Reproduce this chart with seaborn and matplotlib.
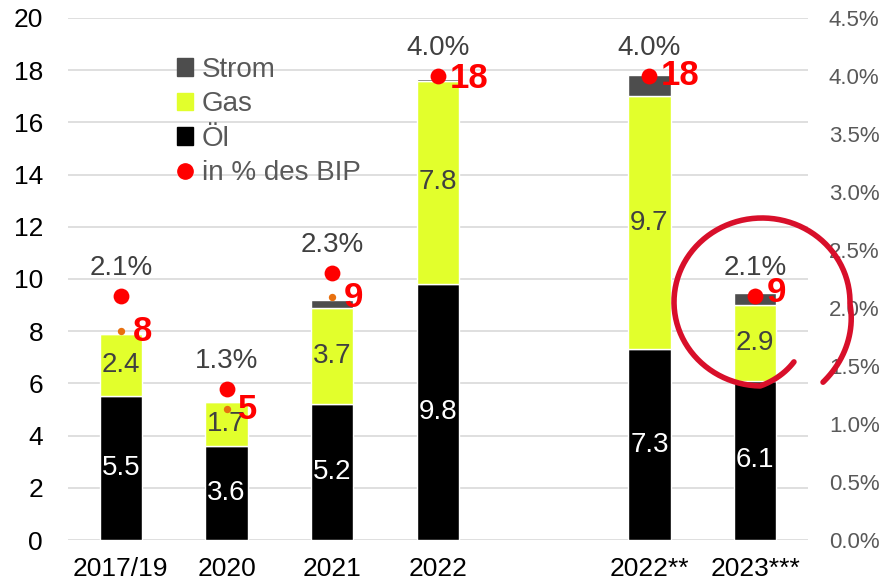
import numpy as np
import pandas as pd
import matplotlib
matplotlib.use("Agg")
import matplotlib.pyplot as plt
import seaborn as sns
from matplotlib.patches import Patch
from matplotlib.lines import Line2D

# --- data ---
years = ["2017/19", "2020", "2021", "2022", "2022**", "2023***"]
oel = [5.5, 3.6, 5.2, 9.8, 7.3, 6.1]
gas = [2.4, 1.7, 3.7, 7.8, 9.7, 2.9]
strom = [0.05, 0.0, 0.3, 0.05, 0.8, 0.45]
totals = [8.0, 5.0, 9.3, 17.7, 17.8, 9.5]
total_labels = ["8", "5", "9", "18", "18", "9"]
bip_pct = [2.1, 1.3, 2.3, 4.0, 4.0, 2.1]

# empty slot between 2022 and 2022**
order = ["2017/19", "2020", "2021", "2022", " ", "2022**", "2023***"]
pos = [order.index(y) for y in years]

df = pd.DataFrame({"year": years, "oel": oel, "gas": gas, "strom": strom})
df["gas_bottom"] = df["oel"]
df["strom_bottom"] = df["oel"] + df["gas"]

sns.set_style("white")
plt.rcParams["font.family"] = ["Liberation Sans", "DejaVu Sans"]

c_oel = "#000000"
c_gas = "#E2FF2C"
c_strom = "#4D4D4D"
c_red = "#FF0000"
c_orange = "#E8700F"
c_text = "#404040"
c_grey = "#595959"

fig = plt.figure(figsize=(8.82, 5.85), dpi=100)
ax = fig.add_axes([68 / 882, 45 / 585, 740 / 882, 522 / 585])

sns.barplot(data=df, x="year", y="oel", order=order, color=c_oel, width=0.4,
            saturation=1, ax=ax, zorder=2)
sns.barplot(data=df, x="year", y="gas", order=order, color=c_gas, width=0.4,
            saturation=1, bottom=df["gas_bottom"], ax=ax, zorder=2)
sns.barplot(data=df, x="year", y="strom", order=order, color=c_strom, width=0.4,
            saturation=1, bottom=df["strom_bottom"], ax=ax, zorder=2)

# segment labels
for p, o, g in zip(pos, oel, gas):
    ax.text(p, o / 2, f"{o:.1f}", ha="center", va="center", color="white",
            fontsize=20, zorder=4)
    ax.text(p, o + g / 2, f"{g:.1f}", ha="center", va="center", color=c_text,
            fontsize=20, zorder=4)

# totals: small orange dot + big red number
ax.scatter(pos, totals, s=28, color=c_orange, zorder=5, linewidths=0)
for p, t, lab in zip(pos, totals, total_labels):
    ax.text(p + 0.11, t, lab, ha="left", va="center", color=c_red,
            fontsize=25, fontweight="bold", zorder=6)

ax.set_xlim(-0.5, 6.5)
ax.set_ylim(0, 20)
ax.set_yticks(np.arange(0, 21, 2))
ax.yaxis.grid(True, color="#D9D9D9", linewidth=1.2, zorder=0)
ax.set_axisbelow(True)
ax.set_xlabel("")
ax.set_ylabel("")
ax.set_xticks(range(len(order)))
ax.set_xticklabels(order)
ax.tick_params(axis="both", length=0, labelsize=19, colors="black")
ax.tick_params(axis="x", pad=12)
ax.tick_params(axis="y", pad=18)
for s in ax.spines.values():
    s.set_visible(False)

# right axis: share of GDP
ax2 = ax.twinx()
sns.scatterplot(x=pos, y=bip_pct, color=c_red, s=130, linewidth=0, ax=ax2,
                zorder=7, legend=False)
for p, v in zip(pos, bip_pct):
    ax2.annotate(f"{v:.1f}%", (p, v), xytext=(0, 28), textcoords="offset pixels",
                 ha="center", va="center", fontsize=20, color=c_text)
ax2.set_ylim(0, 4.5)
ax2.set_yticks(np.arange(0, 4.51, 0.5))
ax2.set_yticklabels([f"{v:.1f}%" for v in np.arange(0, 4.51, 0.5)])
ax2.tick_params(axis="y", length=0, labelsize=16, colors=c_grey, pad=15)
for s in ax2.spines.values():
    s.set_visible(False)

# legend
handles = [
    Patch(color=c_strom, label="Strom"),
    Patch(color=c_gas, label="Gas"),
    Patch(color=c_oel, label="Öl"),
    Line2D([], [], marker="o", color=c_red, linestyle="none", markersize=11,
           label="in % des BIP"),
]
leg = ax.legend(handles=handles, loc="upper left", bbox_to_anchor=(0.128, 0.952),
                frameon=False, fontsize=20, handlelength=0.6, handleheight=0.6,
                handletextpad=0.3, labelspacing=0.3, borderpad=0)
for t in leg.get_texts():
    t.set_color(c_grey)

# hand-drawn highlight around the last bar
cx, cy, rx, ry = 762, 302, 88, 84
theta = np.radians(np.linspace(63, 414, 300))
tt = np.linspace(0, 1, 300)
k = np.minimum(1.0, 0.8 + tt * 2.5) + 0.18 * np.clip((tt - 0.85) / 0.15, 0, 1)
px = cx + rx * k * np.cos(theta)
py = cy + ry * k * np.sin(theta)
fig.add_artist(Line2D(px / 882, 1 - py / 585, transform=fig.transFigure,
                      color="#D80F2A", linewidth=4, solid_capstyle="round"))

fig.savefig("out.png", dpi=100)
